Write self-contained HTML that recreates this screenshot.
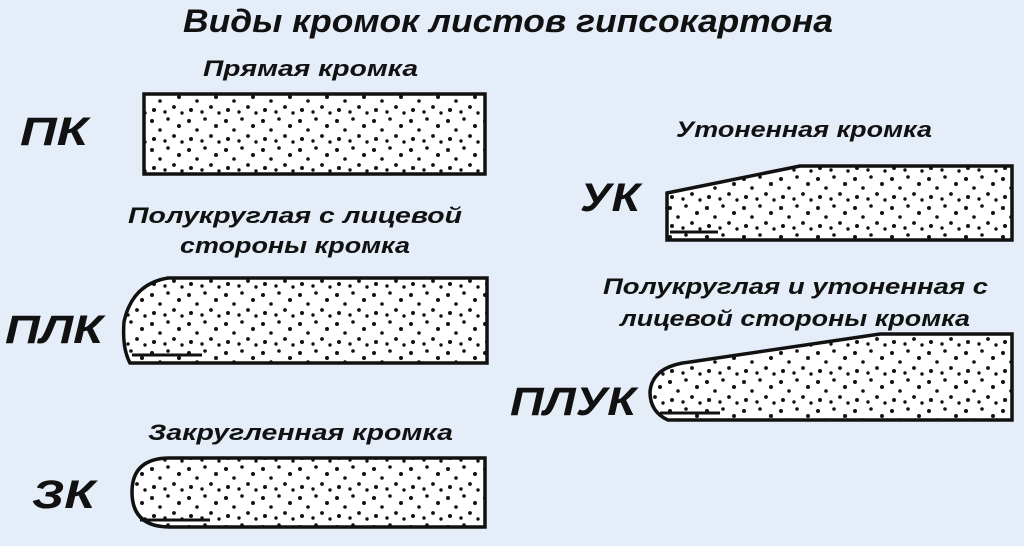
<!DOCTYPE html>
<html><head><meta charset="utf-8"><style>
body{margin:0;background:#e4edf8;}
svg{display:block}
text{font-family:"Liberation Sans",sans-serif;font-weight:bold;font-style:italic;fill:#111}
</style></head><body>
<svg width="1024" height="546" viewBox="0 0 1024 546">
<defs>
<pattern id="d" width="37" height="29" patternUnits="userSpaceOnUse">
<rect width="37" height="29" fill="#fff"/>
<circle cx="4" cy="5" r="2" fill="#111"/><circle cx="20" cy="3" r="1.8" fill="#111"/>
<circle cx="31" cy="10" r="2" fill="#111"/><circle cx="12" cy="14" r="1.8" fill="#111"/>
<circle cx="26" cy="20" r="1.9" fill="#111"/><circle cx="6" cy="23" r="2" fill="#111"/>
<circle cx="17" cy="25" r="1.7" fill="#111"/><circle cx="34" cy="26" r="1.7" fill="#111"/>
</pattern>
</defs>
<rect width="1024" height="546" fill="#e4edf8"/>
<text x="183" y="32" font-size="32" textLength="650" lengthAdjust="spacingAndGlyphs">Виды кромок листов гипсокартона</text>
<text x="203" y="76" font-size="22" textLength="215" lengthAdjust="spacingAndGlyphs">Прямая кромка</text>
<text x="128" y="223" font-size="22" textLength="334" lengthAdjust="spacingAndGlyphs">Полукруглая с лицевой</text>
<text x="180" y="253" font-size="22" textLength="230" lengthAdjust="spacingAndGlyphs">стороны кромка</text>
<text x="148" y="440" font-size="22" textLength="305" lengthAdjust="spacingAndGlyphs">Закругленная кромка</text>
<text x="676" y="137" font-size="22" textLength="256" lengthAdjust="spacingAndGlyphs">Утоненная кромка</text>
<text x="603" y="294" font-size="22" textLength="385" lengthAdjust="spacingAndGlyphs">Полукруглая и утоненная с</text>
<text x="620" y="326" font-size="22" textLength="350" lengthAdjust="spacingAndGlyphs">лицевой стороны кромка</text>
<text x="20" y="145" font-size="40" textLength="68" lengthAdjust="spacingAndGlyphs">ПК</text>
<text x="5" y="343" font-size="40" textLength="98" lengthAdjust="spacingAndGlyphs">ПЛК</text>
<text x="32" y="508" font-size="40" textLength="63" lengthAdjust="spacingAndGlyphs">ЗК</text>
<text x="580" y="211" font-size="40" textLength="60" lengthAdjust="spacingAndGlyphs">УК</text>
<text x="510" y="415" font-size="40" textLength="126" lengthAdjust="spacingAndGlyphs">ПЛУК</text>
<g stroke="#111" stroke-width="3.5" fill="url(#d)">
<rect x="144" y="94" width="341" height="80"/>
<path d="M168 278 H487 V363 H130 Q122 348 124 322 Q132 284 168 278 Z"/>
<path d="M170 458 H485 V527 H170 Q132 527 132 492 Q132 458 170 458 Z"/>
<path d="M667 193 L800 166 H1012 V240 H667 Z"/>
<path d="M690 362 L880 334 H1012 V420 H668 Q650 412 650 392 Q652 366 690 362 Z"/>
</g>
<g stroke="#111" stroke-width="3" fill="none">
<line x1="132" y1="355" x2="202" y2="355"/>
<line x1="140" y1="520" x2="210" y2="520"/>
<line x1="670" y1="232" x2="718" y2="232"/>
<line x1="660" y1="413" x2="720" y2="413"/>
</g>
</svg>
</body></html>
